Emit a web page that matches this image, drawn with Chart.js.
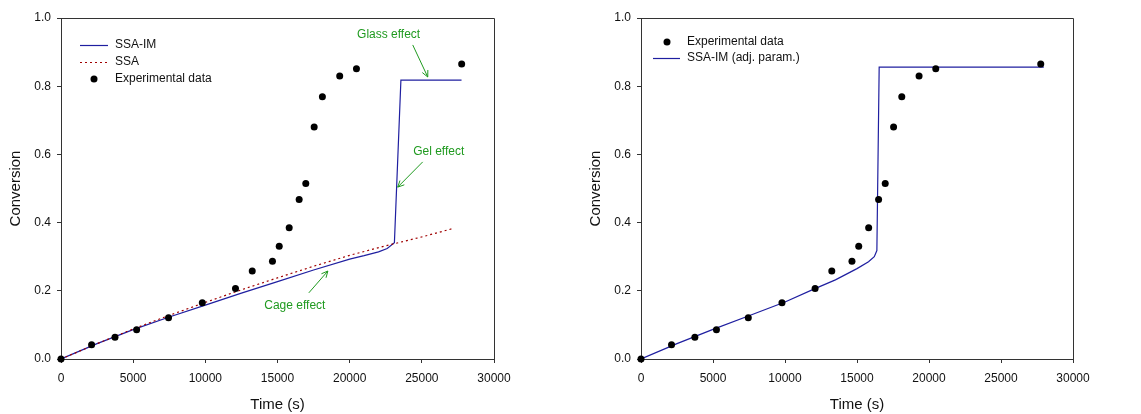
<!DOCTYPE html>
<html>
<head>
<meta charset="utf-8">
<script src="https://cdn.jsdelivr.net/npm/chart.js@4.4.1/dist/chart.umd.min.js"></script>
<style>
  html, body { margin: 0; padding: 0; background: #fff; }
  #wrap { position: relative; width: 1141px; height: 414px; }
  #c1 { position: absolute; left: 0; top: 0; }
  #c2 { position: absolute; left: 570px; top: 0; }
</style>
</head>
<body>
<div id="wrap">
  <canvas id="c1" width="570" height="414" style="width:570px;height:414px"></canvas>
  <canvas id="c2" width="571" height="414" style="width:571px;height:414px"></canvas>
</div>
<script>
// ---- Data ----
const expTime = [0, 2120, 3740, 5240, 7450, 9790, 12090, 13250, 14650, 15120, 15810, 16500, 16960, 17540, 18110, 19310, 20470, 27760];
const expConv = [0, 0.042, 0.064, 0.086, 0.121, 0.165, 0.207, 0.258, 0.287, 0.331, 0.385, 0.468, 0.515, 0.680, 0.769, 0.830, 0.851, 0.865];

const ssaImTime = [0, 2500, 5000, 7500, 10000, 12500, 15000, 17500, 20000, 21000, 22000, 22600, 23100, 23550, 27750];
const ssaImConv = [0, 0.045, 0.086, 0.123, 0.158, 0.193, 0.227, 0.261, 0.293, 0.303, 0.314, 0.324, 0.341, 0.818, 0.818];

const ssaTime = [0, 2500, 5000, 7500, 10000, 12500, 15000, 17500, 20000, 22500, 25000, 27100];
const ssaConv = [0, 0.045, 0.088, 0.128, 0.166, 0.203, 0.238, 0.272, 0.304, 0.332, 0.358, 0.382];

const adjTime = [0, 2500, 5000, 7500, 10000, 12000, 13500, 15000, 15800, 16200, 16380, 16540, 27970];
const adjConv = [0, 0.045, 0.087, 0.127, 0.167, 0.205, 0.232, 0.265, 0.285, 0.300, 0.318, 0.856, 0.856];

const xTicks = [0, 5000, 10000, 15000, 20000, 25000, 30000];
const yTicks = [0, 0.2, 0.4, 0.6, 0.8, 1.0];

// Annotations (data coordinates): text position, arrow start, arrow end
const annotText = ["Glass effect", "Gel effect", "Cage effect"];
const annotTextX = [22700, 26170, 16200];
const annotTextY = [0.950, 0.607, 0.155];
const annotFromX = [24370, 25060, 17170];
const annotFromY = [0.921, 0.578, 0.194];
const annotToX = [25410, 23330, 18490];
const annotToY = [0.827, 0.504, 0.258];

const FONT = "'Liberation Sans', Arial, sans-serif";
const BLUE = '#1f1fa0';
const RED = '#a00000';
const GREEN = '#1f9a1f';
const AXIS = '#333333';

function zip(xs, ys) { return xs.map((x, i) => ({ x: x, y: ys[i] })); }

const frame = {
  id: 'frame',
  afterDraw(chart) {
    const { ctx, chartArea: a } = chart;
    ctx.save();
    ctx.strokeStyle = AXIS;
    ctx.lineWidth = 1;
    ctx.beginPath();
    ctx.moveTo(a.left, a.top + 0.5);
    ctx.lineTo(a.right + 0.5, a.top + 0.5);
    ctx.lineTo(a.right + 0.5, a.bottom);
    ctx.stroke();
    ctx.restore();
  }
};

function legendPlugin(items) {
  return {
    id: 'customLegend',
    afterDraw(chart) {
      const ctx = chart.ctx;
      ctx.save();
      ctx.font = '12px ' + FONT;
      ctx.textBaseline = 'middle';
      ctx.fillStyle = '#111';
      items.forEach(it => {
        const ds = chart.data.datasets[it.ds];
        if (it.kind === 'line') {
          ctx.beginPath();
          ctx.strokeStyle = ds.borderColor;
          ctx.lineWidth = ds.borderWidth;
          ctx.setLineDash(ds.borderDash || []);
          ctx.moveTo(it.x0, it.y + 0.5);
          ctx.lineTo(it.x1, it.y + 0.5);
          ctx.stroke();
          ctx.setLineDash([]);
        } else {
          ctx.beginPath();
          ctx.fillStyle = ds.pointBackgroundColor;
          ctx.arc(it.mx, it.y, ds.pointRadius, 0, Math.PI * 2);
          ctx.fill();
        }
        ctx.fillStyle = '#111';
        ctx.fillText(ds.label, it.tx, it.y);
      });
      ctx.restore();
    }
  };
}

const annotPlugin = {
  id: 'annot',
  afterDraw(chart) {
    const { ctx, scales: { x, y } } = chart;
    ctx.save();
    ctx.font = '12px ' + FONT;
    ctx.textAlign = 'center';
    ctx.textBaseline = 'middle';
    ctx.fillStyle = GREEN;
    ctx.strokeStyle = GREEN;
    ctx.lineWidth = 1;
    annotText.forEach((t, i) => {
      ctx.fillText(t, x.getPixelForValue(annotTextX[i]), y.getPixelForValue(annotTextY[i]));
      const x0 = x.getPixelForValue(annotFromX[i]), y0 = y.getPixelForValue(annotFromY[i]);
      const x1 = x.getPixelForValue(annotToX[i]), y1 = y.getPixelForValue(annotToY[i]);
      ctx.beginPath();
      ctx.moveTo(x0, y0);
      ctx.lineTo(x1, y1);
      const ang = Math.atan2(y1 - y0, x1 - x0);
      const L = 7, w = 0.45;
      ctx.moveTo(x1 - L * Math.cos(ang - w), y1 - L * Math.sin(ang - w));
      ctx.lineTo(x1, y1);
      ctx.lineTo(x1 - L * Math.cos(ang + w), y1 - L * Math.sin(ang + w));
      ctx.stroke();
    });
    ctx.restore();
  }
};

function scalesCfg(yWidth, yTitlePad) {
  return {
    x: {
      type: 'linear', min: 0, max: 30000,
      afterBuildTicks: s => { s.ticks = xTicks.map(v => ({ value: v })); },
      afterFit: s => { s.height = 55; },
      grid: { drawOnChartArea: false, drawTicks: true, tickLength: 4, color: AXIS },
      border: { display: true, color: AXIS, width: 1 },
      ticks: { color: '#111', font: { family: FONT, size: 12 }, padding: 8, maxRotation: 0, callback: v => String(v) },
      title: { display: true, text: 'Time (s)', color: '#111', font: { family: FONT, size: 15 }, padding: { top: 0, bottom: 0 } }
    },
    y: {
      type: 'linear', min: 0, max: 1,
      afterBuildTicks: s => { s.ticks = yTicks.map(v => ({ value: v })); },
      afterFit: s => { s.width = yWidth; },
      grid: { drawOnChartArea: false, drawTicks: true, tickLength: 4, color: AXIS },
      border: { display: true, color: AXIS, width: 1 },
      ticks: { color: '#111', font: { family: FONT, size: 12 }, padding: 6, callback: v => Number(v).toFixed(1) },
      title: { display: true, text: 'Conversion', color: '#111', font: { family: FONT, size: 15 }, padding: { top: yTitlePad, bottom: 0 } }
    }
  };
}

const common = {
  responsive: false,
  animation: false,
  events: [],
  plugins: { legend: { display: false }, tooltip: { enabled: false } }
};

new Chart(document.getElementById('c1'), {
  type: 'scatter',
  data: {
    datasets: [
      { label: 'SSA-IM', data: zip(ssaImTime, ssaImConv), showLine: true, borderColor: BLUE, borderWidth: 1.2, pointRadius: 0, fill: false, tension: 0, order: 2 },
      { label: 'SSA', data: zip(ssaTime, ssaConv), showLine: true, borderColor: RED, borderWidth: 1.2, borderDash: [2, 3], pointRadius: 0, fill: false, tension: 0, order: 1 },
      { label: 'Experimental data', data: zip(expTime, expConv), showLine: false, pointRadius: 3.5, pointBackgroundColor: '#000', pointBorderWidth: 0, clip: false, order: 0 }
    ]
  },
  options: Object.assign({}, common, {
    layout: { padding: { left: 0, top: 18, right: 76, bottom: 0 } },
    scales: scalesCfg(61, 7)
  }),
  plugins: [frame, annotPlugin, legendPlugin([
    { ds: 0, kind: 'line', x0: 80, x1: 108, y: 45, tx: 115 },
    { ds: 1, kind: 'line', x0: 80, x1: 108, y: 62, tx: 115 },
    { ds: 2, kind: 'point', mx: 94, y: 79, tx: 115 }
  ])]
});

new Chart(document.getElementById('c2'), {
  type: 'scatter',
  data: {
    datasets: [
      { label: 'Experimental data', data: zip(expTime, expConv), showLine: false, pointRadius: 3.5, pointBackgroundColor: '#000', pointBorderWidth: 0, clip: false, order: 0 },
      { label: 'SSA-IM (adj. param.)', data: zip(adjTime, adjConv), showLine: true, borderColor: BLUE, borderWidth: 1.2, pointRadius: 0, fill: false, tension: 0, order: 1 }
    ]
  },
  options: Object.assign({}, common, {
    layout: { padding: { left: 0, top: 18, right: 68, bottom: 0 } },
    scales: scalesCfg(71, 17)
  }),
  plugins: [frame, legendPlugin([
    { ds: 0, kind: 'point', mx: 97, y: 42, tx: 117 },
    { ds: 1, kind: 'line', x0: 83, x1: 110, y: 58, tx: 117 }
  ])]
});
</script>
</body>
</html>
